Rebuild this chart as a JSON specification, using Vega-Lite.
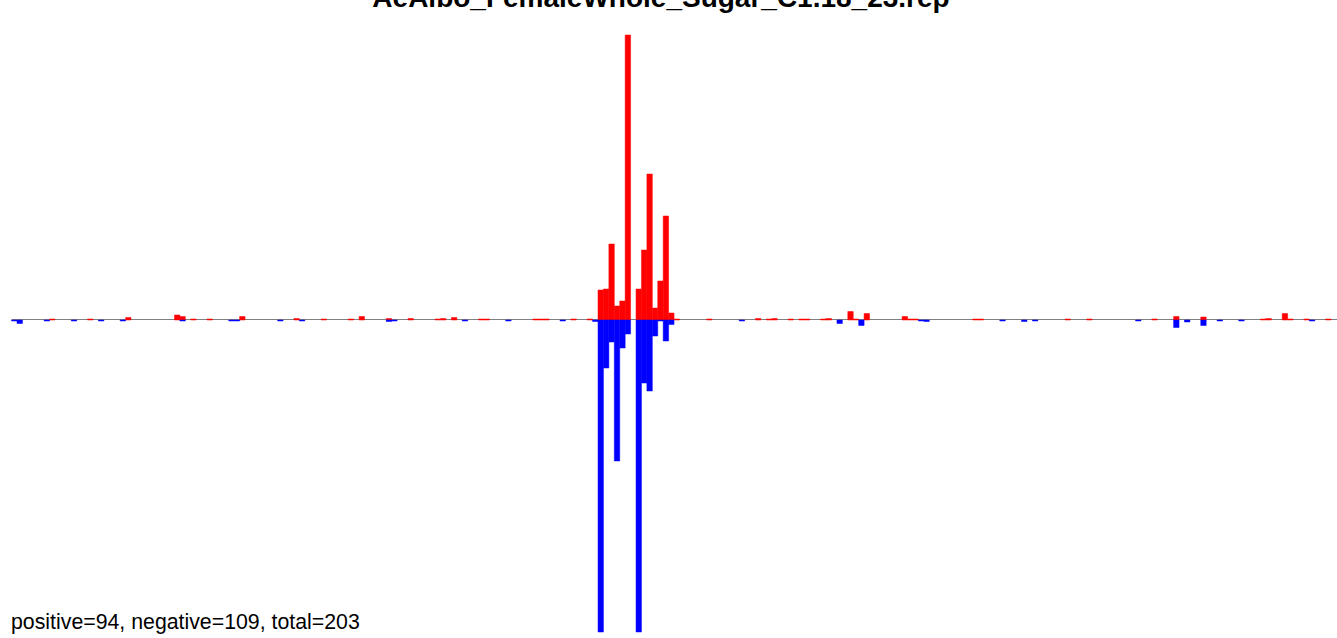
{
  "$schema": "https://vega.github.io/schema/vega-lite/v6.json",
  "width": 1337,
  "height": 638,
  "autosize": {"type": "none"},
  "padding": 0,
  "background": "white",
  "config": {"view": {"stroke": null}},
  "layer": [
    {
      "data": {"values": [{}]},
      "mark": {"type": "rule", "color": "#808080", "strokeWidth": 1},
      "encoding": {
        "x": {"datum": 0, "type": "quantitative", "scale": {"domain": [-2.13, 244.09], "nice": false, "zero": false}, "axis": null},
        "x2": {"datum": 244.09},
        "y": {"datum": 0.5, "type": "quantitative", "scale": {"domain": [-318, 320], "nice": false, "zero": false}, "axis": null}
      }
    },
    {
      "data": {"values": [
        {"p": 7, "q": 8, "s": "pos", "v": 1},
        {"p": 14, "q": 15, "s": "pos", "v": 1},
        {"p": 21, "q": 22, "s": "pos", "v": 2.5},
        {"p": 30, "q": 31, "s": "pos", "v": 5},
        {"p": 31, "q": 32, "s": "pos", "v": 3.5},
        {"p": 33, "q": 34, "s": "pos", "v": 1},
        {"p": 36, "q": 37, "s": "pos", "v": 1},
        {"p": 42, "q": 43, "s": "pos", "v": 3.5},
        {"p": 52, "q": 53, "s": "pos", "v": 1.5},
        {"p": 57, "q": 58, "s": "pos", "v": 1},
        {"p": 62, "q": 63, "s": "pos", "v": 1},
        {"p": 64, "q": 65, "s": "pos", "v": 3.5},
        {"p": 69, "q": 70, "s": "pos", "v": 1.5},
        {"p": 73, "q": 74, "s": "pos", "v": 1.5},
        {"p": 78, "q": 79, "s": "pos", "v": 1},
        {"p": 79, "q": 80, "s": "pos", "v": 1.5},
        {"p": 81, "q": 82, "s": "pos", "v": 2.5},
        {"p": 86, "q": 87, "s": "pos", "v": 1},
        {"p": 87, "q": 88, "s": "pos", "v": 1},
        {"p": 96, "q": 97, "s": "pos", "v": 1},
        {"p": 97, "q": 98, "s": "pos", "v": 1},
        {"p": 98, "q": 99, "s": "pos", "v": 1},
        {"p": 103, "q": 104, "s": "pos", "v": 1},
        {"p": 106, "q": 107, "s": "pos", "v": 1},
        {"p": 108, "q": 109, "s": "pos", "v": 30},
        {"p": 109, "q": 110, "s": "pos", "v": 31},
        {"p": 110, "q": 111, "s": "pos", "v": 76},
        {"p": 111, "q": 112, "s": "pos", "v": 14},
        {"p": 112, "q": 113, "s": "pos", "v": 19},
        {"p": 113, "q": 114, "s": "pos", "v": 285},
        {"p": 115, "q": 116, "s": "pos", "v": 31},
        {"p": 116, "q": 117, "s": "pos", "v": 70},
        {"p": 117, "q": 118, "s": "pos", "v": 146},
        {"p": 118, "q": 119, "s": "pos", "v": 12},
        {"p": 119, "q": 120, "s": "pos", "v": 39},
        {"p": 120, "q": 121, "s": "pos", "v": 104},
        {"p": 121, "q": 122, "s": "pos", "v": 7},
        {"p": 122, "q": 123, "s": "pos", "v": 1},
        {"p": 128, "q": 129, "s": "pos", "v": 1},
        {"p": 137, "q": 138, "s": "pos", "v": 1.5},
        {"p": 139, "q": 140, "s": "pos", "v": 1},
        {"p": 140, "q": 141, "s": "pos", "v": 1.5},
        {"p": 143, "q": 144, "s": "pos", "v": 1},
        {"p": 145, "q": 146, "s": "pos", "v": 1},
        {"p": 146, "q": 147, "s": "pos", "v": 1},
        {"p": 149, "q": 150, "s": "pos", "v": 1},
        {"p": 150, "q": 151, "s": "pos", "v": 1.5},
        {"p": 154, "q": 155, "s": "pos", "v": 8.5},
        {"p": 155, "q": 156, "s": "pos", "v": 1},
        {"p": 157, "q": 158, "s": "pos", "v": 6.5},
        {"p": 164, "q": 165, "s": "pos", "v": 3.5},
        {"p": 165, "q": 166, "s": "pos", "v": 1},
        {"p": 166, "q": 167, "s": "pos", "v": 1},
        {"p": 177, "q": 178, "s": "pos", "v": 1},
        {"p": 178, "q": 179, "s": "pos", "v": 1},
        {"p": 194, "q": 195, "s": "pos", "v": 1},
        {"p": 198, "q": 199, "s": "pos", "v": 1},
        {"p": 210, "q": 211, "s": "pos", "v": 1},
        {"p": 214, "q": 215, "s": "pos", "v": 3.5},
        {"p": 219, "q": 220, "s": "pos", "v": 3},
        {"p": 230, "q": 231, "s": "pos", "v": 1},
        {"p": 231, "q": 232, "s": "pos", "v": 1.5},
        {"p": 234, "q": 235, "s": "pos", "v": 6.5},
        {"p": 235, "q": 236, "s": "pos", "v": 1},
        {"p": 238, "q": 239, "s": "pos", "v": 1},
        {"p": 242, "q": 243, "s": "pos", "v": 1},
        {"p": 0, "q": 1, "s": "neg", "v": -1},
        {"p": 1, "q": 2, "s": "neg", "v": -3.5},
        {"p": 6, "q": 7, "s": "neg", "v": -1},
        {"p": 11, "q": 12, "s": "neg", "v": -1},
        {"p": 16, "q": 17, "s": "neg", "v": -1},
        {"p": 20, "q": 21, "s": "neg", "v": -1},
        {"p": 31, "q": 32, "s": "neg", "v": -1},
        {"p": 40, "q": 41, "s": "neg", "v": -1},
        {"p": 41, "q": 42, "s": "neg", "v": -1},
        {"p": 49, "q": 50, "s": "neg", "v": -1},
        {"p": 53, "q": 54, "s": "neg", "v": -1},
        {"p": 69, "q": 70, "s": "neg", "v": -1.5},
        {"p": 70, "q": 71, "s": "neg", "v": -1},
        {"p": 83, "q": 84, "s": "neg", "v": -1},
        {"p": 91, "q": 92, "s": "neg", "v": -1},
        {"p": 101, "q": 102, "s": "neg", "v": -1},
        {"p": 107, "q": 108, "s": "neg", "v": -1.5},
        {"p": 108, "q": 109, "s": "neg", "v": -312},
        {"p": 109, "q": 110, "s": "neg", "v": -48},
        {"p": 110, "q": 111, "s": "neg", "v": -22},
        {"p": 111, "q": 112, "s": "neg", "v": -141},
        {"p": 112, "q": 113, "s": "neg", "v": -28},
        {"p": 113, "q": 114, "s": "neg", "v": -14},
        {"p": 115, "q": 116, "s": "neg", "v": -312},
        {"p": 116, "q": 117, "s": "neg", "v": -63},
        {"p": 117, "q": 118, "s": "neg", "v": -71},
        {"p": 118, "q": 119, "s": "neg", "v": -16},
        {"p": 119, "q": 120, "s": "neg", "v": -1},
        {"p": 120, "q": 121, "s": "neg", "v": -21},
        {"p": 121, "q": 122, "s": "neg", "v": -4.5},
        {"p": 134, "q": 135, "s": "neg", "v": -1},
        {"p": 152, "q": 153, "s": "neg", "v": -3.5},
        {"p": 156, "q": 157, "s": "neg", "v": -5.5},
        {"p": 167, "q": 168, "s": "neg", "v": -1},
        {"p": 168, "q": 169, "s": "neg", "v": -1.5},
        {"p": 182, "q": 183, "s": "neg", "v": -1},
        {"p": 186, "q": 187, "s": "neg", "v": -1.5},
        {"p": 188, "q": 189, "s": "neg", "v": -1},
        {"p": 207, "q": 208, "s": "neg", "v": -1},
        {"p": 214, "q": 215, "s": "neg", "v": -7.5},
        {"p": 216, "q": 217, "s": "neg", "v": -2},
        {"p": 219, "q": 220, "s": "neg", "v": -5.5},
        {"p": 222, "q": 223, "s": "neg", "v": -1},
        {"p": 226, "q": 227, "s": "neg", "v": -1},
        {"p": 239, "q": 240, "s": "neg", "v": -1}
      ]},
      "mark": {"type": "bar", "strokeWidth": 0.5},
      "encoding": {
        "x": {"field": "p", "type": "quantitative", "scale": {"domain": [-2.13, 244.09], "nice": false, "zero": false}, "axis": null},
        "x2": {"field": "q"},
        "y": {"field": "v", "type": "quantitative", "stack": null, "scale": {"domain": [-318, 320], "nice": false, "zero": false}, "axis": null},
        "y2": {"datum": 0},
        "color": {"field": "s", "type": "nominal", "scale": {"domain": ["pos", "neg"], "range": ["#ff0000", "#0000ff"]}, "legend": null},
        "stroke": {"field": "s", "type": "nominal", "scale": {"domain": ["pos", "neg"], "range": ["#ff0000", "#0000ff"]}, "legend": null}
      }
    },
    {
      "data": {"values": [{"label": "AeAlbo_FemaleWhole_Sugar_C1.18_23.rep"}]},
      "mark": {"type": "text", "align": "center", "baseline": "alphabetic", "font": "Liberation Sans", "fontSize": 28, "fontWeight": "bold", "color": "black"},
      "encoding": {
        "x": {"datum": 119.6, "type": "quantitative", "scale": {"domain": [-2.13, 244.09], "nice": false, "zero": false}, "axis": null},
        "y": {"datum": 313, "type": "quantitative", "scale": {"domain": [-318, 320], "nice": false, "zero": false}, "axis": null},
        "text": {"field": "label", "type": "nominal"}
      }
    },
    {
      "data": {"values": [{"label": "positive=94, negative=109, total=203"}]},
      "mark": {"type": "text", "align": "left", "baseline": "alphabetic", "font": "Liberation Sans", "fontSize": 21.3, "color": "black"},
      "encoding": {
        "x": {"datum": -0.1, "type": "quantitative", "scale": {"domain": [-2.13, 244.09], "nice": false, "zero": false}, "axis": null},
        "y": {"datum": -309, "type": "quantitative", "scale": {"domain": [-318, 320], "nice": false, "zero": false}, "axis": null},
        "text": {"field": "label", "type": "nominal"}
      }
    }
  ]
}
